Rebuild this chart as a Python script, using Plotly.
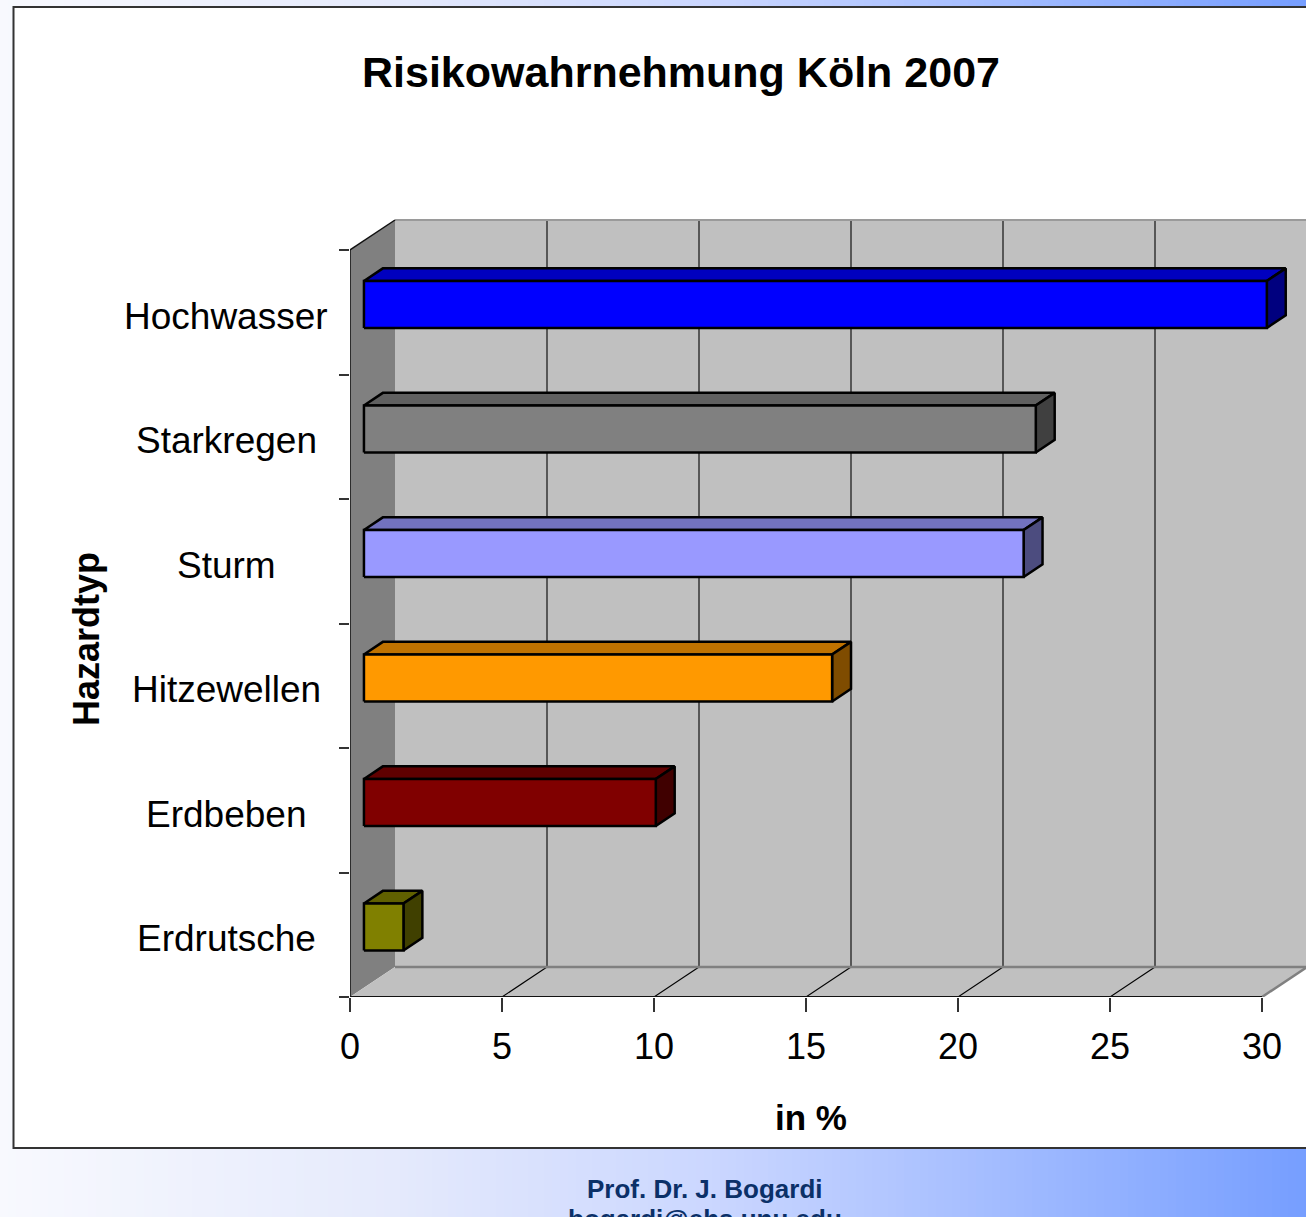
import plotly.graph_objects as go

# ---------------- data ----------------
categories = ["Hochwasser", "Starkregen", "Sturm", "Hitzewellen", "Erdbeben", "Erdrutsche"]
values = [29.7, 22.1, 21.7, 15.4, 9.6, 1.3]
front_colors = ["#0000FF", "#808080", "#9999FF", "#FF9900", "#800000", "#808000"]
x_tickvals = [0, 5, 10, 15, 20, 25, 30]
x_ticktext = ["0", "5", "10", "15", "20", "25", "30"]
title_text = "Risikowahrnehmung Köln 2007"
x_title = "in %"
y_title = "Hazardtyp"
footer_lines = ["Prof. Dr. J. Bogardi", "bogardi@ehs.unu.edu"]

# ---------------- layout geometry (pixels) ----------------
W, H = 1306, 1217
PX_L, PX_R = 350, 1306
PX_T, PX_B = 215, 997
X_MAX = x_tickvals[-1]
PX_X30 = 1262
px_per_x = (PX_X30 - PX_L) / X_MAX
n = len(categories)
PX_WALL_TOP_FRONT = 250
band_px = (PX_B - PX_WALL_TOP_FRONT) / n

x_range = [0, (PX_R - PX_L) / px_per_x]
y_range = [0, (PX_B - PX_T) / band_px]

DX = 45 / px_per_x      # full depth in x units
DY = 30 / band_px       # full depth in y units
D1, D2 = 0.31, 0.73     # bar front/back depth fractions
FRONT_LIFT = 7.8 / band_px
BAR_HALF = 23.5 / band_px

FONT = "Arial, Liberation Sans, sans-serif"


def shade(hexcol, f):
    h = hexcol.lstrip("#")
    r, g, b = (int(h[i:i + 2], 16) for i in (0, 2, 4))
    return "#%02X%02X%02X" % (int(r * f), int(g * f), int(b * f))


def poly(xs, ys, fill, line_color, line_width):
    return go.Scatter(x=list(xs) + [xs[0]], y=list(ys) + [ys[0]], mode="lines",
                      fill="toself", fillcolor=fill,
                      line=dict(color=line_color, width=line_width),
                      hoverinfo="skip", showlegend=False)


def seg(xs, ys, color, width):
    return go.Scatter(x=xs, y=ys, mode="lines", line=dict(color=color, width=width),
                      hoverinfo="skip", showlegend=False)


fig = go.Figure()

# back wall
fig.add_trace(poly([DX, X_MAX + DX, X_MAX + DX, DX], [DY, DY, n + DY, n + DY],
                   "#C0C0C0", "rgba(0,0,0,0)", 0))
# left wall
fig.add_trace(poly([0, DX, DX, 0], [0, DY, n + DY, n], "#808080", "rgba(0,0,0,0)", 0))
# floor
fig.add_trace(poly([0, X_MAX, X_MAX + DX, DX], [0, 0, DY, DY], "#C0C0C0", "rgba(0,0,0,0)", 0))

# back wall gridlines
for t in x_tickvals[1:-1]:
    fig.add_trace(seg([t + DX, t + DX], [DY, n + DY], "#000000", 1.1))
# floor diagonals
for t in x_tickvals[1:-1]:
    fig.add_trace(seg([t, t + DX], [0, DY], "#000000", 1.1))

# wall edges
fig.add_trace(seg([DX, X_MAX + DX], [n + DY, n + DY], "#9A9A9A", 2))
fig.add_trace(seg([DX, X_MAX + DX], [DY, DY], "#808080", 2.5))
fig.add_trace(seg([X_MAX, X_MAX + DX], [0, DY], "#808080", 2.5))
fig.add_trace(seg([0, DX], [n, n + DY], "#111111", 1.5))
fig.add_trace(seg([0, 0], [0, n], "#111111", 1.5))
fig.add_trace(seg([0, X_MAX], [0, 0], "#111111", 2))

# bars
ddx = (D2 - D1) * DX
ddy = (D2 - D1) * DY
for i, (cat, v, col) in enumerate(zip(categories, values, front_colors)):
    band = n - 1 - i
    cy = band + 0.5 + FRONT_LIFT
    x0 = D1 * DX
    x1 = v + D1 * DX
    yb, yt = cy - BAR_HALF, cy + BAR_HALF
    # top face
    fig.add_trace(poly([x0, x1, x1 + ddx, x0 + ddx], [yt, yt, yt + ddy, yt + ddy],
                       shade(col, 0.75), "#000000", 2.5))
    # side face
    fig.add_trace(poly([x1, x1, x1 + ddx, x1 + ddx], [yb, yt, yt + ddy, yb + ddy],
                       shade(col, 0.5), "#000000", 2.5))
    # front face
    fig.add_trace(poly([x0, x1, x1, x0], [yb, yb, yt, yt], col, "#000000", 2.5))

# ---------------- background decoration ----------------
shapes = []
stops = [(0.0, (248, 249, 254)), (0.3, (229, 234, 252)), (0.55, (202, 214, 255)),
         (0.78, (160, 186, 255)), (1.0, (118, 158, 255))]


def grad(t):
    for (t0, c0), (t1, c1) in zip(stops[:-1], stops[1:]):
        if t <= t1:
            f = (t - t0) / (t1 - t0)
            return "rgb(%d,%d,%d)" % tuple(round(a + (b - a) * f) for a, b in zip(c0, c1))
    return "rgb(%d,%d,%d)" % stops[-1][1]


STRIP = 8
for px in range(0, W, STRIP):
    shapes.append(dict(type="rect", xref="paper", yref="paper", layer="below",
                       x0=px / W, x1=min(px + STRIP + 1, W) / W, y0=0, y1=1,
                       fillcolor=grad((px + STRIP / 2) / W), line=dict(width=0)))
# white panel
shapes.append(dict(type="rect", xref="paper", yref="paper", layer="below",
                   x0=13.5 / W, x1=(W + 10) / W, y0=1 - 1148 / H, y1=1 - 7 / H,
                   fillcolor="#FFFFFF", line=dict(color="#333333", width=2)))


def px_x(p):
    return p / W


def px_y(p):
    return 1 - p / H


annotations = []
# category labels
for i, cat in enumerate(categories):
    band = n - 1 - i
    annotations.append(dict(text=cat, xref="paper", yref="y", x=px_x(226), y=band + 0.5 - 4 / band_px,
                            xanchor="center", yanchor="middle", showarrow=False,
                            font=dict(family=FONT, size=37, color="#000000")))
annotations.append(dict(text="<b>%s</b>" % title_text, xref="paper", yref="paper",
                        x=px_x(681), y=px_y(72), xanchor="center", yanchor="middle",
                        showarrow=False, font=dict(family=FONT, size=43, color="#000000")))
annotations.append(dict(text="<b>%s</b>" % x_title, xref="paper", yref="paper",
                        x=px_x(811), y=px_y(1117), xanchor="center", yanchor="middle",
                        showarrow=False, font=dict(family=FONT, size=35, color="#000000")))
annotations.append(dict(text="<b>%s</b>" % y_title, xref="paper", yref="paper",
                        x=px_x(86), y=px_y(639), xanchor="center", yanchor="middle",
                        textangle=-90, showarrow=False,
                        font=dict(family=FONT, size=36, color="#000000")))
for k, line in enumerate(footer_lines):
    annotations.append(dict(text="<b>%s</b>" % line, xref="paper", yref="paper",
                            x=px_x(705), y=px_y(1189 + k * 30), xanchor="center", yanchor="middle",
                            showarrow=False, font=dict(family=FONT, size=26, color="#0B3068")))

fig.update_layout(
    width=W, height=H, autosize=False,
    margin=dict(l=0, r=0, t=0, b=0, pad=0),
    paper_bgcolor="#FFFFFF", plot_bgcolor="rgba(0,0,0,0)",
    template="none", showlegend=False,
    shapes=shapes, annotations=annotations,
    xaxis=dict(domain=[PX_L / W, PX_R / W], range=x_range, showgrid=False, zeroline=False,
               showline=False, tickmode="array", tickvals=x_tickvals, ticktext=x_ticktext,
               ticks="outside", ticklen=14, tickwidth=1.5, tickcolor="#333333",
               ticklabelstandoff=4,
               tickfont=dict(family=FONT, size=36, color="#000000"), automargin=False,
               fixedrange=True),
    yaxis=dict(domain=[1 - PX_B / H, 1 - PX_T / H], range=y_range, showgrid=False, zeroline=False,
               showline=False, tickmode="array", tickvals=list(range(n + 1)),
               ticks="outside", ticklen=10, tickwidth=1.5, tickcolor="#333333",
               showticklabels=False, automargin=False, fixedrange=True),
)

fig.write_html("out.html", config={"displayModeBar": False},
               post_script="document.body.style.margin='0';")
